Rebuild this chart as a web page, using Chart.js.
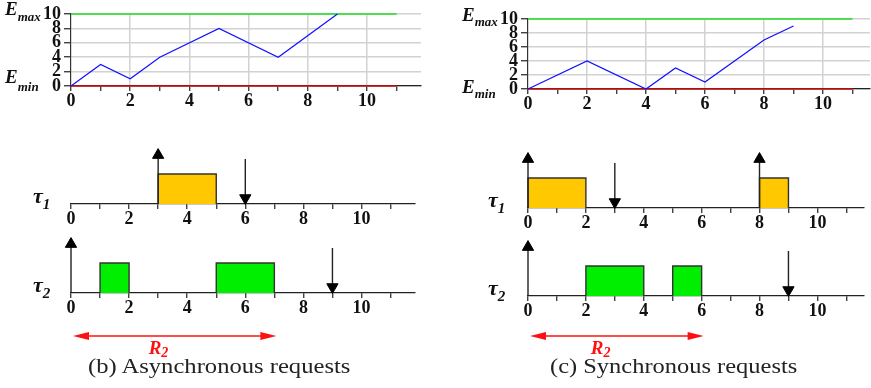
<!DOCTYPE html>
<html>
<head>
<meta charset="utf-8">
<script src="https://cdn.jsdelivr.net/npm/chart.js@4.4.1/dist/chart.umd.min.js"></script>
<style>
  body { margin: 0; width: 871px; height: 388px; background: #fff; position: relative; overflow: hidden; }
  canvas { position: absolute; }
  .cap { position: absolute; font-family: 'Liberation Serif', serif; font-size: 20px; white-space: nowrap; transform-origin: 0 0; color: #222; }
</style>
</head>
<body>
<canvas id="energyAsync" width="422" height="110" style="left:0;top:0"></canvas>
<canvas id="energySync" width="431" height="114" style="left:440px;top:0"></canvas>
<canvas id="tau1Async" width="422" height="100" style="left:0;top:130px"></canvas>
<canvas id="tau2Async" width="422" height="140" style="left:0;top:225px"></canvas>
<canvas id="tau1Sync" width="431" height="100" style="left:440px;top:130px"></canvas>
<canvas id="tau2Sync" width="431" height="140" style="left:440px;top:225px"></canvas>
<div class="cap" id="capB" data-w="262" style="left:88px;top:355px">(b) Asynchronous requests</div>
<div class="cap" id="capC" data-w="247" style="left:550px;top:355px">(c) Synchronous requests</div>
<script>
// energy level over time
let energyAsyncT = [0, 1, 2, 3, 5, 7, 9];
let energyAsyncE = [0, 3, 1, 4, 8, 4, 10];
let energySyncT = [0, 2, 4, 5, 6, 8, 9];
let energySyncE = [0, 4, 0, 3, 1, 7, 9];
let eMax = 10;
let eMin = 0;
let horizon = 11;
let xLabels = [0, 2, 4, 6, 8, 10];
let yLabels = [0, 2, 4, 6, 8, 10];

// jobs as [start, end], releases (up arrows) and deadlines (down arrows)
let tau1AsyncJobs = [[3, 5]];
let tau1AsyncRelease = [3];
let tau1AsyncDeadline = [6];
let tau2AsyncJobs = [[1, 2], [5, 7]];
let tau2AsyncRelease = [0];
let tau2AsyncDeadline = [9];
let tau1SyncJobs = [[0, 2], [8, 9]];
let tau1SyncRelease = [0, 8];
let tau1SyncDeadline = [3];
let tau2SyncJobs = [[2, 4], [5, 6]];
let tau2SyncRelease = [0];
let tau2SyncDeadline = [9];
let r2Async = 7;
let r2Sync = 6;

const SERIF = "'Liberation Serif', serif";
const tickFont = { family: SERIF, weight: 'bold', size: 18 };

// texto con subindice (E_max, tau_1...)
const subTexts = {
  id: 'subTexts',
  afterDraw(chart, args, opts) {
    let ctx = chart.ctx;
    (opts.items || []).forEach(function (it) {
      let y = chart.scales.y.getPixelForValue(it.value) + it.dy;
      ctx.save();
      ctx.fillStyle = it.color || '#111';
      ctx.textBaseline = 'alphabetic';
      ctx.font = 'italic bold ' + it.size + 'px ' + SERIF;
      ctx.fillText(it.main, it.x, y);
      let w = ctx.measureText(it.main).width;
      ctx.font = 'italic bold ' + it.subSize + 'px ' + SERIF;
      ctx.fillText(it.sub, it.x + w + (it.gap || 0), y + it.drop);
      ctx.restore();
    });
  }
};

// flecha roja del tiempo de respuesta
const responseArrow = {
  id: 'responseArrow',
  afterDraw(chart, args, opts) {
    if (opts.value === undefined) return;
    let ctx = chart.ctx;
    let xs = chart.scales.x;
    let x0 = xs.getPixelForValue(0) + 2;
    let x1 = xs.getPixelForValue(opts.value) + 2;
    let y = opts.y;
    ctx.save();
    ctx.strokeStyle = '#ff1010';
    ctx.fillStyle = '#ff1010';
    ctx.lineWidth = 1.6;
    ctx.beginPath();
    ctx.moveTo(x0 + 8, y);
    ctx.lineTo(x1 - 8, y);
    ctx.stroke();
    ctx.beginPath();
    ctx.moveTo(x0, y); ctx.lineTo(x0 + 16, y - 4); ctx.lineTo(x0 + 16, y + 4); ctx.closePath();
    ctx.fill();
    ctx.beginPath();
    ctx.moveTo(x1, y); ctx.lineTo(x1 - 16, y - 4); ctx.lineTo(x1 - 16, y + 4); ctx.closePath();
    ctx.fill();
    let lx = xs.getPixelForValue(opts.value / 2) - 24;
    ctx.textBaseline = 'alphabetic';
    ctx.font = 'italic bold 19px ' + SERIF;
    ctx.fillText('R', lx, opts.labelY);
    let w = ctx.measureText('R').width;
    ctx.font = 'italic bold 14px ' + SERIF;
    ctx.fillText('2', lx + w, opts.labelY + 3);
    ctx.restore();
  }
};

function fixWidth(w) { return function (scale) { scale.width = w; }; }
function fixHeight(h) { return function (scale) { scale.height = h; }; }

function xScale(xmax, xh, energy) {
  return {
    type: 'linear', min: 0, max: xmax,
    afterFit: fixHeight(xh),
    z: energy ? 0 : 1,
    border: { color: '#222', width: 1.2 },
    grid: {
      drawOnChartArea: !!energy,
      color: function (c) { return c.tick && c.tick.value % 2 === 0 && c.tick.value > 0 ? '#d2d2d2' : 'rgba(0,0,0,0)'; },
      lineWidth: 1.5,
      tickColor: '#222', tickWidth: 1.2, tickLength: 5
    },
    ticks: {
      stepSize: 1, includeBounds: false, autoSkip: false, maxRotation: 0,
      color: '#111', font: tickFont, padding: 0,
      callback: function (v) { return xLabels.indexOf(v) >= 0 ? String(v) : ''; }
    }
  };
}

function energyChart(id, t, e, o) {
  let pts = t.map(function (x, i) { return { x: x, y: e[i] }; });
  return new Chart(document.getElementById(id), {
    type: 'line',
    data: {
      datasets: [
        { data: pts, borderColor: '#1010ff', borderWidth: 1.2, pointRadius: 0, tension: 0, clip: false },
        { data: [{ x: 0, y: eMax }, { x: horizon, y: eMax }], borderColor: '#22dd22', borderWidth: 1.6, pointRadius: 0, clip: false },
        { data: [{ x: 0, y: eMin }, { x: horizon, y: eMin }], borderColor: '#cc1010', borderWidth: 1.6, pointRadius: 0, clip: false }
      ]
    },
    options: {
      responsive: false, animation: false, events: [],
      layout: { padding: { left: 0, top: o.top, right: 1, bottom: 0 } },
      scales: {
        x: xScale(o.xmax, o.xh, true),
        y: {
          type: 'linear', min: 0, max: eMax,
          afterFit: fixWidth(o.yw),
          border: { color: '#333', width: 1.2 },
          grid: { color: '#d2d2d2', lineWidth: 1.5, tickColor: '#222', tickWidth: 1.2, tickLength: 7 },
          afterBuildTicks: function (s) { s.ticks = yLabels.map(function (v) { return { value: v }; }); },
          ticks: { color: '#111', font: tickFont, padding: 3, autoSkip: false }
        }
      },
      plugins: {
        legend: { display: false }, tooltip: { enabled: false },
        subTexts: { items: [
          { main: 'E', sub: 'max', x: o.labelX, value: eMax, dy: o.maxDy, size: 19, subSize: 13, drop: o.maxDrop },
          { main: 'E', sub: 'min', x: o.labelX, value: eMin, dy: o.minDy, size: 19, subSize: 13, drop: o.minDrop }
        ] }
      }
    },
    plugins: [subTexts]
  });
}

function taskChart(id, jobs, release, deadline, color, o) {
  let ds = [];
  release.forEach(function (t) {
    ds.push({ data: [{ x: t, y: 0 }, { x: t, y: 1.63 }], borderColor: '#222', borderWidth: 1.4,
      pointRadius: [0, 6.5], pointStyle: 'triangle', pointBackgroundColor: '#000', pointBorderColor: '#000', pointBorderWidth: 1, clip: false });
  });
  deadline.forEach(function (t) {
    ds.push({ data: [{ x: t, y: 1.5 }, { x: t, y: 0.2 }], borderColor: '#222', borderWidth: 1.4,
      pointRadius: [0, 6.5], pointStyle: 'triangle', pointRotation: 180, pointBackgroundColor: '#000', pointBorderColor: '#000', pointBorderWidth: 1, clip: false });
  });
  jobs.forEach(function (j) {
    ds.push({ data: [{ x: j[0], y: 0 }, { x: j[0], y: 1 }, { x: j[1], y: 1 }, { x: j[1], y: 0 }],
      fill: 'origin', backgroundColor: color, borderColor: '#333', borderWidth: 1.4, pointRadius: 0, tension: 0, clip: false });
  });
  return new Chart(document.getElementById(id), {
    type: 'line',
    data: { datasets: ds },
    options: {
      responsive: false, animation: false, events: [],
      layout: { padding: { left: o.left, top: o.top, right: 1, bottom: 0 } },
      scales: {
        x: xScale(o.xmax, o.xh, false),
        y: { type: 'linear', min: 0, max: 2, display: false }
      },
      plugins: {
        legend: { display: false }, tooltip: { enabled: false },
        subTexts: { items: [{ main: '\u03C4', sub: o.sub, x: o.labelX, value: 0, dy: -1, size: 22, subSize: 15, drop: 6 }] },
        responseArrow: o.r2 === undefined ? {} : { value: o.r2, y: 111, labelY: 129 }
      }
    },
    plugins: [subTexts, responseArrow]
  });
}

function dibujar() {
  energyChart('energyAsync', energyAsyncT, energyAsyncE, { top: 14, xh: 24, yw: 71, xmax: 350 / 29.6, labelX: 5, maxDy: 1, maxDrop: 6, minDy: -3, minDrop: 8 });
  energyChart('energySync', energySyncT, energySyncE, { top: 19, xh: 25, yw: 88, xmax: 342 / 29.5, labelX: 462 - 440, maxDy: 2, maxDrop: 5, minDy: 4, minDrop: 5 });

  taskChart('tau1Async', tau1AsyncJobs, tau1AsyncRelease, tau1AsyncDeadline, '#ffc800', { left: 71, top: 14, xh: 26, xmax: 350 / 29.6, labelX: 33, sub: '1' });
  taskChart('tau2Async', tau2AsyncJobs, tau2AsyncRelease, tau2AsyncDeadline, '#00ee00', { left: 71, top: 8, xh: 72, xmax: 350 / 29.6, labelX: 33, sub: '2', r2: r2Async });
  taskChart('tau1Sync', tau1SyncJobs, tau1SyncRelease, tau1SyncDeadline, '#ffc800', { left: 88, top: 18, xh: 22, xmax: 342 / 29.5, labelX: 488 - 440, sub: '1' });
  taskChart('tau2Sync', tau2SyncJobs, tau2SyncRelease, tau2SyncDeadline, '#00ee00', { left: 88, top: 11, xh: 69, xmax: 342 / 29.5, labelX: 488 - 440, sub: '2', r2: r2Sync });

  // ajustar el ancho de los pies de figura
  document.querySelectorAll('.cap').forEach(function (el) {
    let target = parseFloat(el.dataset.w);
    el.style.transform = 'scaleX(' + (target / el.offsetWidth) + ')';
  });
}

Promise.all([
  document.fonts.load("bold 18px 'Liberation Serif'"),
  document.fonts.load("italic bold 18px 'Liberation Serif'"),
  document.fonts.load("20px 'Liberation Serif'")
]).then(dibujar, dibujar);
</script>
</body>
</html>
